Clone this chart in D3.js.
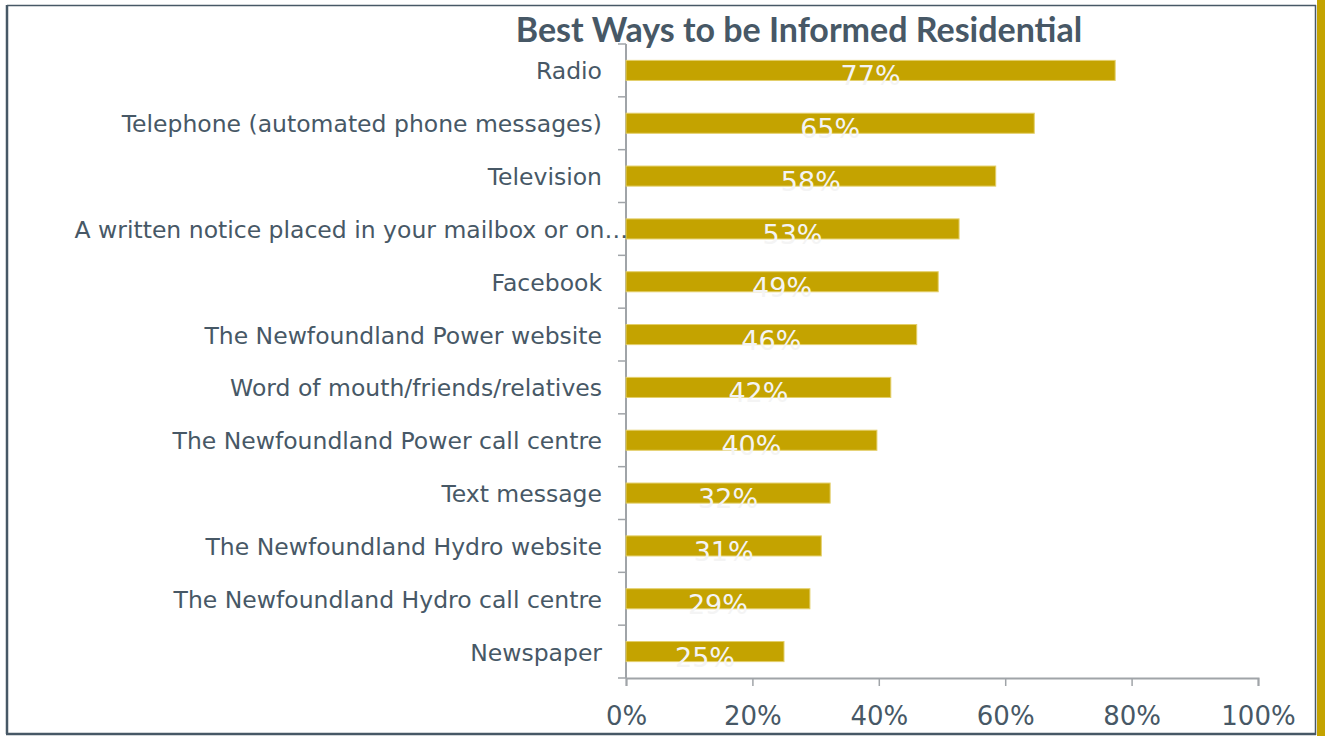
<!DOCTYPE html>
<html>
<head>
<meta charset="utf-8">
<script src="https://cdn.jsdelivr.net/npm/d3@7"></script>
<style>
  body { margin: 0; background: #fff; }
  svg { display: block; font-family: "DejaVu Sans", sans-serif; }
</style>
</head>
<body>
<script>
// chart data
var categories = [
  "Radio",
  "Telephone (automated phone messages)",
  "Television",
  "A written notice placed in your mailbox or on\u2026",
  "Facebook",
  "The Newfoundland Power website",
  "Word of mouth/friends/relatives",
  "The Newfoundland Power call centre",
  "Text message",
  "The Newfoundland Hydro website",
  "The Newfoundland Hydro call centre",
  "Newspaper"
];
var values = [0.774, 0.646, 0.585, 0.527, 0.494, 0.46, 0.419, 0.397, 0.323, 0.309, 0.291, 0.25];
var valueLabels = ["77%", "65%", "58%", "53%", "49%", "46%", "42%", "40%", "32%", "31%", "29%", "25%"];
var xTicks = [0, 0.2, 0.4, 0.6, 0.8, 1];
var title = "Best Ways to be Informed Residential";

var width = 1325, height = 736;
var textColor = "#475866", barColor = "#c4a300", axisColor = "#a0a4a8";

var svg = d3.select("body").append("svg")
    .attr("width", width)
    .attr("height", height);

/* ---- frame ---- */
svg.append("rect").attr("x", 1317).attr("y", 0).attr("width", 8).attr("height", height).attr("fill", barColor);
svg.append("line").attr("x1", 7).attr("y1", 5.5).attr("x2", 1316).attr("y2", 5.5).attr("stroke", "#475866").attr("stroke-width", 1.5);
svg.append("line").attr("x1", 7).attr("y1", 5).attr("x2", 7).attr("y2", 734).attr("stroke", "#475866").attr("stroke-width", 2.5);
svg.append("line").attr("x1", 6).attr("y1", 734).attr("x2", 1316).attr("y2", 734).attr("stroke", "#475866").attr("stroke-width", 2.5);
svg.append("line").attr("x1", 1315.5).attr("y1", 5).attr("x2", 1315.5).attr("y2", 735).attr("stroke", "#475866").attr("stroke-width", 1.5);

/* ---- title ---- */
svg.append("text")
    .attr("x", 799).attr("y", 42)
    .attr("text-anchor", "middle")
    .attr("font-family", "Lato, sans-serif")
    .attr("font-size", 34).attr("font-weight", "bold")
    .attr("fill", textColor)
    .text(title);

/* ---- scales ---- */
var x = d3.scaleLinear().domain([0, 1]).range([626, 1258]);
var y = d3.scaleBand().domain(categories).range([44, 678]).paddingInner(0.62).paddingOuter(0.31);
var bounds = d3.range(categories.length + 1).map(i => 44 + i * y.step());

/* ---- x axis ---- */
var xAxis = svg.append("g")
    .attr("transform", "translate(0,678)")
    .call(d3.axisBottom(x).tickValues(xTicks).tickFormat(d3.format(".0%")).tickSize(8).tickPadding(21));
xAxis.select(".domain").attr("stroke", axisColor).attr("stroke-width", 2);
xAxis.selectAll(".tick line").attr("stroke", axisColor).attr("stroke-width", 1.5);
xAxis.selectAll(".tick text").attr("fill", textColor).attr("font-size", 26).attr("font-family", "DejaVu Sans, sans-serif");

/* ---- y axis line and boundary ticks ---- */
svg.append("line").attr("x1", 626).attr("x2", 626).attr("y1", 44).attr("y2", 678)
    .attr("stroke", axisColor).attr("stroke-width", 2);
svg.selectAll(".ytick").data(bounds).enter().append("line")
    .attr("class", "ytick")
    .attr("x1", 618).attr("x2", 626)
    .attr("y1", d => d).attr("y2", d => d)
    .attr("stroke", axisColor).attr("stroke-width", 1.5);

/* ---- bars ---- */
svg.selectAll(".bar").data(categories).enter().append("rect")
    .attr("class", "bar")
    .attr("x", x(0))
    .attr("y", d => y(d))
    .attr("width", (d, i) => x(values[i]) - x(0))
    .attr("height", y.bandwidth())
    .attr("fill", barColor)
    .attr("stroke", "#e3cf6a").attr("stroke-width", 1);

/* ---- category labels ---- */
svg.selectAll(".cat").data(categories).enter().append("text")
    .attr("class", "cat")
    .attr("x", (d, i) => i === 3 ? 628 : 602)
    .attr("y", d => y(d) + y.bandwidth() / 2)
    .attr("dy", "0.38em")
    .attr("text-anchor", "end")
    .attr("font-size", 23.5)
    .attr("fill", textColor)
    .text(d => d);

/* ---- value labels ---- */
svg.selectAll(".val").data(categories).enter().append("text")
    .attr("class", "val")
    .attr("x", (d, i) => (x(0) + x(values[i])) / 2)
    .attr("y", d => y(d) + y.bandwidth() + 5)
    .attr("text-anchor", "middle")
    .attr("font-size", 27)
    .attr("fill", "#f4f4f4")
    .text((d, i) => valueLabels[i]);
</script>
</body>
</html>
